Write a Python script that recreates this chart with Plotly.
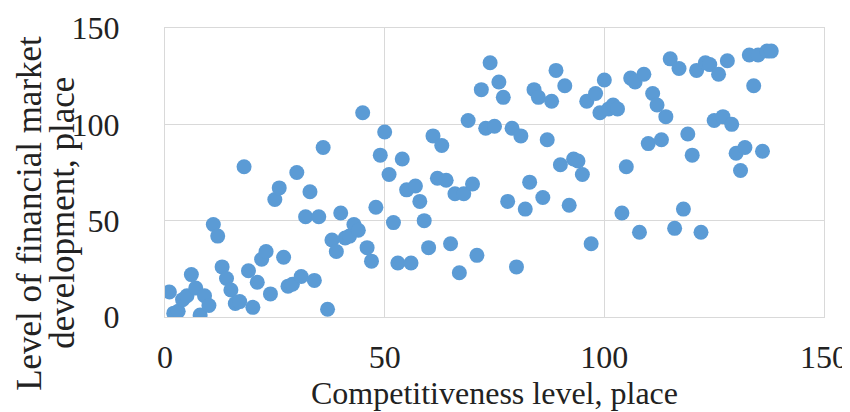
import plotly.graph_objects as go

competitiveness_place = list(range(1, 139))
financial_market_place = [
    13, 2, 3, 9, 11, 22, 15, 1, 11, 6,
    48, 42, 26, 20, 14, 7, 8, 78, 24, 5,
    18, 30, 34, 12, 61, 67, 31, 16, 17, 75,
    21, 52, 65, 19, 52, 88, 4, 40, 34, 54,
    41, 42, 48, 45, 106, 36, 29, 57, 84, 96,
    74, 49, 28, 82, 66, 28, 68, 60, 50, 36,
    94, 72, 89, 71, 38, 64, 23, 64, 102, 69,
    32, 118, 98, 132, 99, 122, 114, 60, 98, 26,
    94, 56, 70, 118, 114, 62, 92, 112, 128, 79,
    120, 58, 82, 81, 74, 112, 38, 116, 106, 123,
    108, 110, 108, 54, 78, 124, 122, 44, 126, 90,
    116, 110, 92, 104, 134, 46, 129, 56, 95, 84,
    128, 44, 132, 131, 102, 126, 104, 133, 100, 85,
    76, 88, 136, 120, 136, 86, 138, 138,
]

x_ticks = [0, 50, 100, 150]
y_ticks = [0, 50, 100, 150]
x_title = "Competitiveness level, place"
y_title_lines = ["Level of financial market", "development, place"]

FONT = "Liberation Serif"
GRID = "#d9d9d9"
CLEAR = "rgba(0,0,0,0)"
TEXT = "#222222"

fig = go.Figure(
    go.Scatter(
        x=competitiveness_place,
        y=financial_market_place,
        mode="markers",
        marker=dict(size=15, color="#5B9BD5", line=dict(width=0)),
        hoverinfo="x+y",
    )
)

# page body has an 8px margin, so the figure is sized to fit the 850x412 window
fig.update_layout(
    width=842,
    height=404,
    autosize=False,
    margin=dict(l=157, r=26, t=20, b=95),
    paper_bgcolor="white",
    plot_bgcolor="white",
    showlegend=False,
    font=dict(family=FONT, size=32, color=TEXT),
)

fig.update_xaxes(
    range=[0, 150],
    tickvals=x_ticks,
    ticks="outside",
    ticklen=12,
    tickcolor=CLEAR,
    showgrid=True,
    gridcolor=GRID,
    gridwidth=1,
    zeroline=False,
    showline=True,
    mirror=True,
    linecolor=GRID,
    linewidth=1,
    tickfont=dict(family=FONT, size=32),
    title=dict(text=x_title, font=dict(family=FONT, size=32), standoff=6),
    automargin=False,
)
fig.update_yaxes(
    range=[0, 150],
    tickvals=y_ticks,
    ticks="outside",
    ticklen=38,
    tickcolor=CLEAR,
    showgrid=True,
    gridcolor=GRID,
    gridwidth=1,
    zeroline=False,
    showline=True,
    mirror=True,
    linecolor=GRID,
    linewidth=1,
    tickfont=dict(family=FONT, size=32),
    automargin=False,
)

# two-line rotated y-axis title (one annotation per line for tight line spacing)
for xpos, line in zip([-0.205, -0.155], y_title_lines):
    fig.add_annotation(
        text=line,
        xref="paper",
        yref="paper",
        x=xpos,
        y=0.36,
        xanchor="center",
        yanchor="middle",
        textangle=-90,
        showarrow=False,
        font=dict(family=FONT, size=35, color=TEXT),
    )

fig.write_html("out.html")
